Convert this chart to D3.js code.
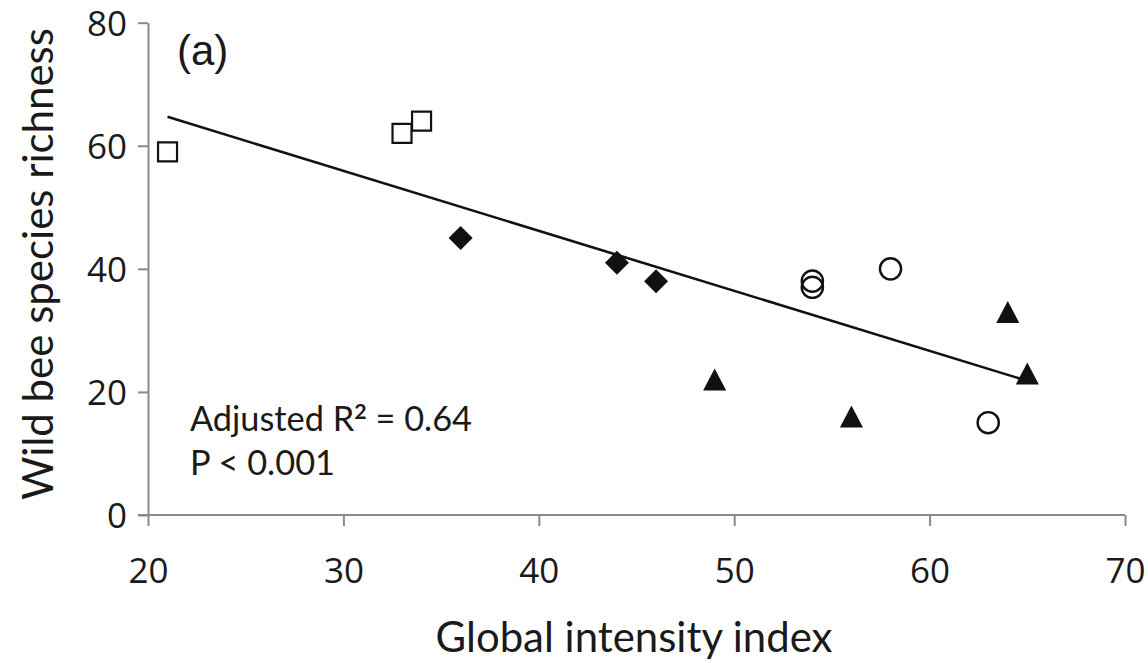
<!DOCTYPE html>
<html>
<head>
<meta charset="utf-8">
<script src="https://cdn.jsdelivr.net/npm/d3@7"></script>
<style>
  html, body { margin: 0; padding: 0; background: #ffffff; }
  svg { display: block; }
</style>
</head>
<body>
<svg id="chart" width="1148" height="663"></svg>
<script>
// ---- data ----
const squaresX   = [21, 33, 34];
const squaresY   = [59, 62, 64];
const diamondsX  = [36, 44, 46];
const diamondsY  = [45, 41, 38];
const circlesX   = [54, 54, 58, 63];
const circlesY   = [38, 37, 40, 15];
const trianglesX = [49, 56, 64, 65];
const trianglesY = [22, 16, 33, 23];
const trendX     = [21, 65];
const trendY     = [64.7, 21.8];
const xTicks     = [20, 30, 40, 50, 60, 70];
const yTicks     = [0, 20, 40, 60, 80];
const xLabel     = "Global intensity index";
const yLabel     = "Wild bee species richness";
const panelLabel = "(a)";

// ---- layout ----
const svg = d3.select("#chart");
const x = d3.scaleLinear().domain([20, 70]).range([148, 1125]);
const y = d3.scaleLinear().domain([0, 80]).range([515, 22.7]);
const axisColor = "#8a8a8a";
const textColor = "#1a1a1a";

svg.append("rect").attr("width", 1148).attr("height", 663).attr("fill", "#fff");

// x axis
const gx = svg.append("g")
  .attr("transform", `translate(0,${y(0)})`)
  .call(d3.axisBottom(x).tickValues(xTicks).tickSize(11).tickSizeOuter(0).tickFormat(d3.format("d")));
// y axis
const gy = svg.append("g")
  .attr("transform", `translate(${x(20)},0)`)
  .call(d3.axisLeft(y).tickValues(yTicks).tickSize(10).tickSizeOuter(0).tickFormat(d3.format("d")));

[gx, gy].forEach(g => {
  g.select(".domain").attr("stroke", axisColor).attr("stroke-width", 2);
  g.selectAll(".tick line").attr("stroke", axisColor).attr("stroke-width", 2);
  g.selectAll(".tick text")
    .attr("fill", textColor)
    .style("font-family", "'Open Sans', sans-serif")
    .style("font-size", "35px");
});
gx.selectAll(".tick text").attr("y", 68).attr("dy", 0);
gy.selectAll(".tick text").attr("x", -21).attr("dy", "0.36em");
// extend the x-axis line left to meet the 0 tick of y
gx.select(".domain").attr("d", `M${x(20) - 10},0H${x(70)}`);

// helper: fit a text to a target length by adjusting font size
function fitText(sel, target) {
  const fs = parseFloat(sel.style("font-size"));
  const len = sel.node().getComputedTextLength();
  const nfs = fs * target / len;
  sel.style("font-size", nfs + "px");
  return nfs;
}

// axis titles
const xt = svg.append("text")
  .attr("x", 634).attr("y", 652)
  .attr("text-anchor", "middle")
  .attr("fill", textColor)
  .style("font-family", "Lato, sans-serif")
  .style("font-size", "36px")
  .text(xLabel);
fitText(xt, 397);

const yt = svg.append("text")
  .attr("transform", "translate(53,264) rotate(-90)")
  .attr("text-anchor", "middle")
  .attr("fill", textColor)
  .style("font-family", "Lato, sans-serif")
  .style("font-size", "36px")
  .text(yLabel);
fitText(yt, 472);

// panel label
svg.append("text")
  .attr("x", 177).attr("y", 65)
  .attr("fill", textColor)
  .style("font-family", "'Liberation Sans', Arial, sans-serif")
  .style("font-size", "42px")
  .text(panelLabel);

// statistics annotation
const ann = svg.append("text")
  .attr("x", 190).attr("y", 431)
  .attr("fill", textColor)
  .style("font-family", "Lato, sans-serif")
  .style("font-size", "30px");
ann.append("tspan").text("Adjusted R");
const sup = ann.append("tspan").attr("dy", -11).style("font-size", "20px").style("font-weight", "bold").text("2");
const rest = ann.append("tspan").attr("dy", 11).text(" = 0.64");
// fit the whole line to its width in the picture
const annLen = ann.node().getComputedTextLength();
const annScale = 283 / annLen;
const annFs = 30 * annScale;
ann.style("font-size", annFs + "px");
sup.style("font-size", (annFs * 0.62) + "px").attr("dy", -annFs * 0.36);
rest.attr("dy", annFs * 0.36);

svg.append("text")
  .attr("x", 190).attr("y", 475)
  .attr("fill", textColor)
  .style("font-family", "Lato, sans-serif")
  .style("font-size", annFs + "px")
  .text("P < 0.001");

// ---- custom marker shapes ----
const diamondType = {
  draw(ctx, size) {
    const h = Math.sqrt(size) / 2;
    ctx.moveTo(0, -h); ctx.lineTo(h, 0); ctx.lineTo(0, h); ctx.lineTo(-h, 0); ctx.closePath();
  }
};
const triangleType = {
  draw(ctx, size) {
    const h = Math.sqrt(size) / 2;
    ctx.moveTo(0, -h); ctx.lineTo(h * 1.05, h); ctx.lineTo(-h * 1.05, h); ctx.closePath();
  }
};

const zip = (xs, ys) => xs.map((v, i) => ({ x: v, y: ys[i] }));

// trend line
svg.append("path")
  .datum(zip(trendX, trendY))
  .attr("fill", "none")
  .attr("stroke", "#111")
  .attr("stroke-width", 2.6)
  .attr("d", d3.line().x(d => x(d.x)).y(d => y(d.y)));

// squares (open)
svg.append("g").selectAll("path")
  .data(zip(squaresX, squaresY)).join("path")
  .attr("transform", d => `translate(${x(d.x)},${y(d.y)})`)
  .attr("d", d3.symbol().type(d3.symbolSquare).size(19 * 19))
  .attr("fill", "#fff").attr("stroke", "#111").attr("stroke-width", 2.2);

// diamonds (filled)
svg.append("g").selectAll("path")
  .data(zip(diamondsX, diamondsY)).join("path")
  .attr("transform", d => `translate(${x(d.x)},${y(d.y)})`)
  .attr("d", d3.symbol().type(diamondType).size(24 * 24))
  .attr("fill", "#111");

// circles (open)
svg.append("g").selectAll("circle")
  .data(zip(circlesX, circlesY)).join("circle")
  .attr("cx", d => x(d.x)).attr("cy", d => y(d.y)).attr("r", 10.6)
  .attr("fill", "none").attr("stroke", "#111").attr("stroke-width", 2.4);

// triangles (filled)
svg.append("g").selectAll("path")
  .data(zip(trianglesX, trianglesY)).join("path")
  .attr("transform", d => `translate(${x(d.x)},${y(d.y)})`)
  .attr("d", d3.symbol().type(triangleType).size(22 * 22))
  .attr("fill", "#111");
</script>
</body>
</html>
